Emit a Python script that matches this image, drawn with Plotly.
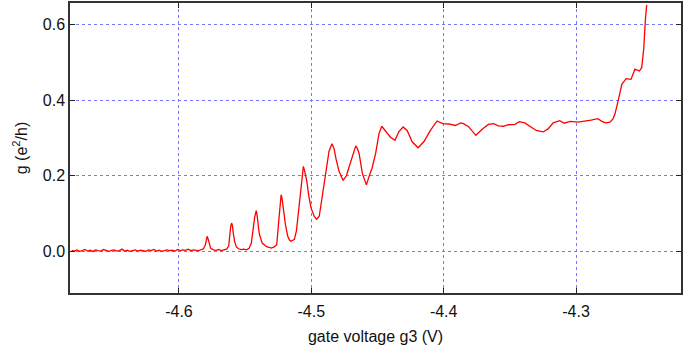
import plotly.graph_objects as go

# gate voltage (V)
voltage = [
    -4.681, -4.679, -4.677, -4.675, -4.673, -4.671, -4.669, -4.667, -4.665, -4.663,
    -4.661, -4.659, -4.657, -4.655, -4.653, -4.651, -4.649, -4.647, -4.645, -4.643,
    -4.641, -4.639, -4.637, -4.635, -4.633, -4.631, -4.629, -4.627, -4.625, -4.623,
    -4.621, -4.619, -4.617, -4.615, -4.613, -4.611, -4.609, -4.607, -4.605, -4.603,
    -4.601, -4.599, -4.597, -4.595, -4.593, -4.591, -4.589, -4.587, -4.585, -4.583,
    -4.5815, -4.5801, -4.5794, -4.5787, -4.5779, -4.5771, -4.576, -4.574, -4.572, -4.570,
    -4.568, -4.566, -4.564, -4.5624, -4.5617, -4.5609, -4.5602, -4.5596, -4.5588, -4.5579,
    -4.5566, -4.555, -4.553, -4.551, -4.549, -4.547, -4.5453, -4.5441, -4.5428, -4.5416,
    -4.5408, -4.5398, -4.5391, -4.5371, -4.5341, -4.532, -4.5303, -4.528, -4.5261, -4.5246,
    -4.5237, -4.5228, -4.5222, -4.5216, -4.5205, -4.5195, -4.5178, -4.5165, -4.5153, -4.5128,
    -4.5112, -4.5103, -4.5085, -4.5072, -4.5065, -4.506, -4.5052, -4.5035, -4.5018, -4.5002,
    -4.4977, -4.496, -4.494, -4.4915, -4.4885, -4.4866, -4.4844, -4.4828, -4.4814, -4.479,
    -4.476, -4.4735, -4.4714, -4.4689, -4.4675, -4.4664, -4.4652, -4.4639, -4.4614, -4.4584,
    -4.4556, -4.4541, -4.4514, -4.4489, -4.4468, -4.4455, -4.4439, -4.4402, -4.4368, -4.4338,
    -4.4306, -4.4276, -4.4238, -4.4193, -4.415, -4.410, -4.405, -4.4008, -4.3962, -4.3912,
    -4.3872, -4.385, -4.3812, -4.3757, -4.3707, -4.3662, -4.3624, -4.3586, -4.3549, -4.3511,
    -4.3461, -4.3429, -4.3387, -4.3346, -4.3301, -4.3248, -4.3211, -4.3173, -4.3123, -4.309,
    -4.3045, -4.2985, -4.2932, -4.2887, -4.2835, -4.2805, -4.2774, -4.2744, -4.2722, -4.2707,
    -4.2679, -4.2654, -4.2622, -4.2585, -4.2555, -4.2521, -4.2504, -4.2489, -4.2476, -4.2466,
]

# conductance g (e^2/h)
conductance = [
    0.003, 0.001, 0.004, 0.000, 0.002, 0.005, 0.001, 0.003, 0.000, 0.004,
    0.002, 0.001, 0.005, 0.002, 0.000, 0.003, 0.004, 0.001, 0.002, 0.006,
    0.001, 0.003, 0.000, 0.002, 0.004, 0.001, 0.003, 0.002, 0.000, 0.004,
    0.002, 0.005, 0.001, 0.003, 0.000, 0.002, 0.004, 0.002, 0.003, 0.001,
    0.005, 0.002, 0.004, 0.003, 0.006, 0.002, 0.004, 0.003, 0.002, 0.005,
    0.007, 0.016, 0.030, 0.040, 0.032, 0.018, 0.008, 0.004, 0.003, 0.005,
    0.002, 0.004, 0.006, 0.014, 0.045, 0.066, 0.075, 0.068, 0.045, 0.026,
    0.012, 0.007, 0.005, 0.006, 0.004, 0.008, 0.022, 0.055, 0.090, 0.108,
    0.092, 0.060, 0.044, 0.022, 0.013, 0.011, 0.009, 0.012, 0.018, 0.080,
    0.125, 0.150, 0.142, 0.122, 0.092, 0.070, 0.040, 0.030, 0.027, 0.032,
    0.055, 0.085, 0.150, 0.195, 0.218, 0.225, 0.215, 0.188, 0.145, 0.115,
    0.092, 0.085, 0.093, 0.150, 0.228, 0.265, 0.285, 0.272, 0.246, 0.211,
    0.188, 0.200, 0.224, 0.250, 0.270, 0.279, 0.272, 0.259, 0.206, 0.176,
    0.206, 0.220, 0.259, 0.311, 0.331, 0.325, 0.317, 0.302, 0.294, 0.317,
    0.329, 0.320, 0.290, 0.274, 0.290, 0.320, 0.345, 0.338, 0.337, 0.333,
    0.340, 0.338, 0.330, 0.307, 0.324, 0.336, 0.338, 0.332, 0.331, 0.335,
    0.336, 0.343, 0.340, 0.330, 0.320, 0.316, 0.324, 0.340, 0.346, 0.339,
    0.344, 0.342, 0.344, 0.347, 0.351, 0.344, 0.340, 0.342, 0.350, 0.362,
    0.403, 0.442, 0.457, 0.455, 0.482, 0.477, 0.486, 0.534, 0.613, 0.652,
]

x_ticks = [-4.6, -4.5, -4.4, -4.3]
y_ticks = [0.0, 0.2, 0.4, 0.6]

FONT = "Liberation Sans, Arial, sans-serif"

fig = go.Figure()
fig.add_trace(go.Scatter(
    x=voltage, y=conductance, mode="lines",
    line=dict(color="rgb(255,0,0)", width=1.3),
    showlegend=False,
))

axis_common = dict(
    showline=True, linecolor="#333333", linewidth=1.5, mirror="allticks",
    ticks="inside", ticklen=5, tickwidth=1, tickcolor="#222222",
    showgrid=True, gridcolor="rgb(120,120,255)", gridwidth=1, griddash="dot",
    zeroline=False,
    tickfont=dict(family=FONT, size=16, color="#111111"),
    title_font=dict(family=FONT, size=16, color="#111111"),
)

fig.update_xaxes(
    range=[-4.6823, -4.2207], tickvals=x_ticks,
    ticktext=[f"{v:.1f}" for v in x_ticks],
    title_text="gate voltage g3 (V)", title_standoff=13,
    ticklabelstandoff=3,
    **axis_common,
)
fig.update_yaxes(
    range=[-0.110, 0.657], tickvals=y_ticks,
    ticktext=[f"{v:.1f}" for v in y_ticks],
    title_text="g (e<sup>2</sup>/h)", title_standoff=11,
    **axis_common,
)

fig.update_layout(
    width=684, height=345,
    margin=dict(l=70, r=1, t=3, b=51),
    paper_bgcolor="white", plot_bgcolor="white",
    font=dict(family=FONT, size=16, color="#111111"),
)

fig.write_html("out.html")
